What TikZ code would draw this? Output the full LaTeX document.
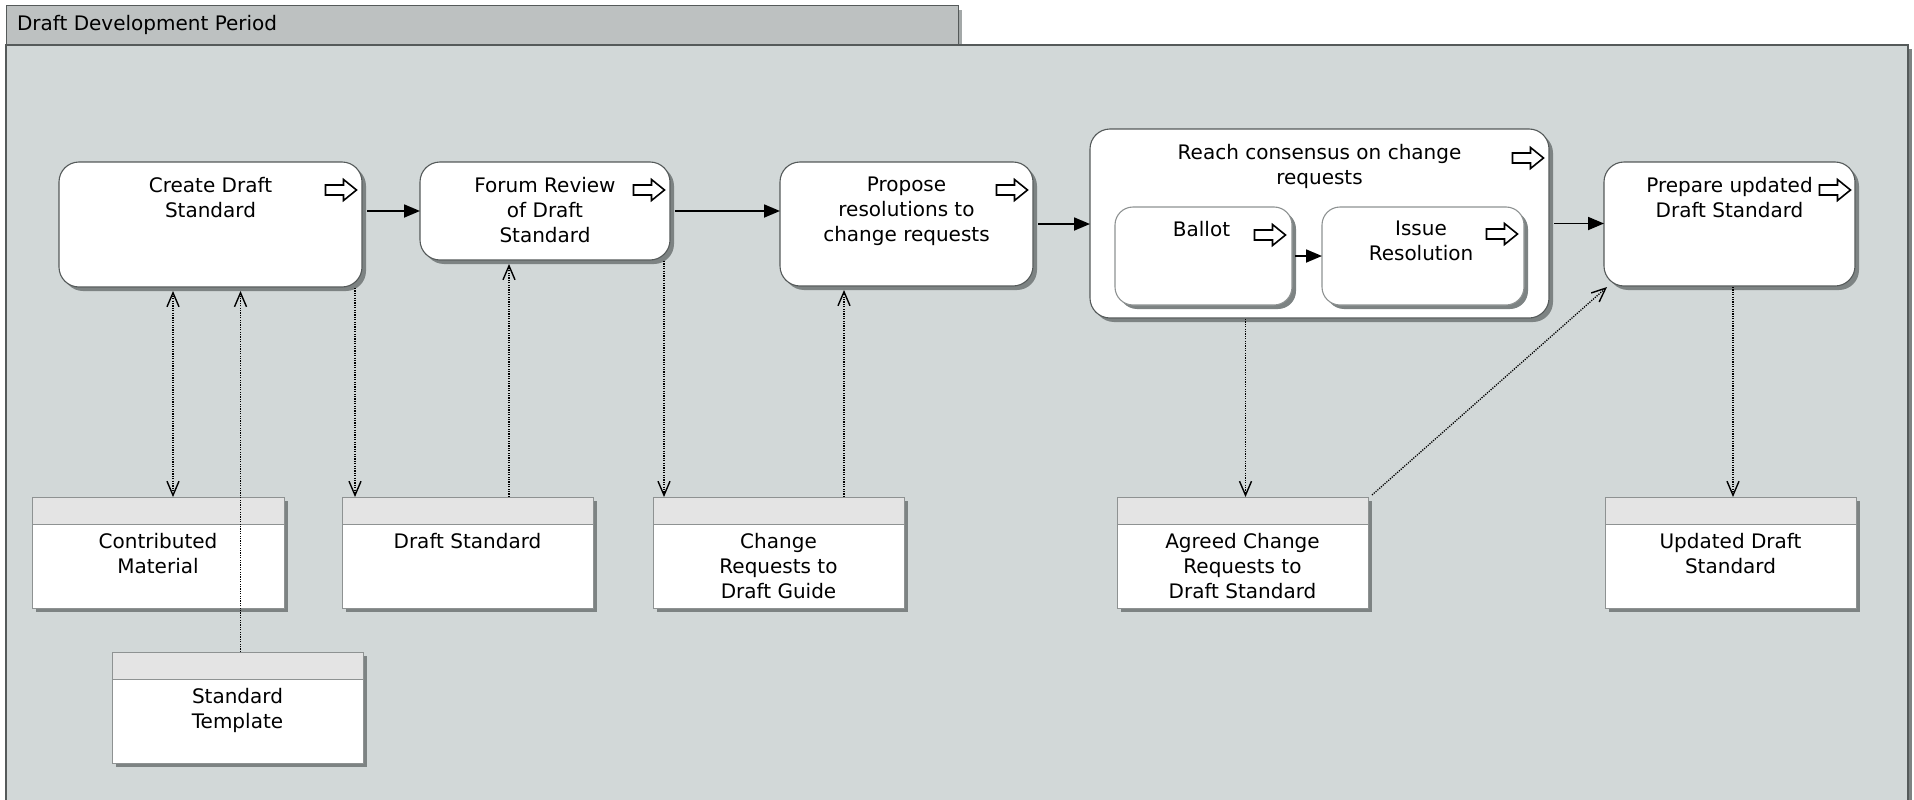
\documentclass[tikz,border=0pt]{standalone}
\usepackage{fontspec}
\setmainfont{DejaVu Sans}
\usetikzlibrary{arrows.meta,shadows,calc}
\definecolor{framefill}{HTML}{D2D8D8}
\definecolor{tabfill}{HTML}{BDC1C1}
\definecolor{edgegray}{HTML}{555A5A}
\definecolor{shadowgray}{HTML}{7D8383}
\definecolor{tabshadow}{HTML}{A3A8A8}
\definecolor{headgray}{HTML}{E4E4E4}
\definecolor{dataedge}{HTML}{8E9292}
\begin{document}
\begin{tikzpicture}[x=1pt,y=-1pt,
  every node/.style={inner sep=0pt, outer sep=0pt},
  txt/.style={font=\fontsize{20}{25}\selectfont, align=center, anchor=north, text=black},
  shade4/.style={drop shadow={shadow xshift=4pt, shadow yshift=-4pt, opacity=1, fill=shadowgray}},
  procbox/.style={draw=edgegray, line width=1.1pt, fill=white, rounded corners=20pt, anchor=north west, shade4},
  subbox/.style={procbox, draw=dataedge, rounded corners=18pt},
  databox/.style={draw=dataedge, line width=1pt, fill=white, anchor=north west, minimum width=251pt, minimum height=111pt, shade4,
    path picture={\fill[headgray] (path picture bounding box.north west) rectangle ([yshift=-27pt]path picture bounding box.north east);
      \draw[dataedge, line width=1pt] ([yshift=-27pt]path picture bounding box.north west) -- ([yshift=-27pt]path picture bounding box.north east);}},
  flow/.style={line width=1.8pt, -{Triangle[length=16pt,width=13pt]}, shorten <=5pt},
  assoc/.style={line width=1.3pt, dash pattern=on 1.2pt off 1.2pt},
  vhead/.style={-{Straight Barb[length=14pt,width=12pt,line width=1.4pt]}},
  vboth/.style={{Straight Barb[length=14pt,width=12pt,line width=1.4pt]}-{Straight Barb[length=14pt,width=12pt,line width=1.4pt]}},
  markicon/.pic={\draw[line width=1.6pt, fill=white, line join=miter] (-15.5,-5) -- (2.5,-5) -- (2.5,-10.5) -- (15.5,0) -- (2.5,10.5) -- (2.5,5) -- (-15.5,5) -- cycle;}
]
\useasboundingbox (0,0) rectangle (1914,800);
\clip (0,0) rectangle (1914,800);
% frame and tab
\fill[tabshadow] (10,10) rectangle (962,45);
\fill[shadowgray] (11,49) rectangle (1912,830);
\draw[edgegray, line width=1pt, fill=tabfill] (6,6) rectangle (958,45);
\draw[edgegray, line width=1.2pt, fill=framefill] (6,45) rectangle (1908,830);
\node[font=\fontsize{20}{25}\selectfont, anchor=west] (title) at (17,25) {Draft Development Period};

% process boxes
\node[procbox, minimum width=303pt, minimum height=125pt] (create) at (59,162) {};
\node[procbox, minimum width=250pt, minimum height=98pt] (forum) at (420,162) {};
\node[procbox, minimum width=253pt, minimum height=124pt] (propose) at (780,162) {};
\node[procbox, minimum width=459pt, minimum height=189pt] (reach) at (1090,129) {};
\node[subbox, minimum width=177pt, minimum height=98pt] (ballot) at (1115,207) {};
\node[subbox, minimum width=202pt, minimum height=98pt] (issue) at (1322,207) {};
\node[procbox, minimum width=251pt, minimum height=124pt] (prepare) at (1604,162) {};

\node[txt] (createT) at ($(create.north)+(0,15)$) {Create Draft\\Standard};
\node[txt] (forumT) at ($(forum.north)+(0,15)$) {Forum Review\\of Draft\\Standard};
\node[txt] (proposeT) at ($(propose.north)+(0,15)$) {Propose\\resolutions to\\change requests};
\node[txt] (reachT) at ($(reach.north)+(0,15)$) {Reach consensus on change\\requests};
\node[txt] (ballotT) at ($(ballot.north)+(-2,14)$) {Ballot};
\node[txt] (issueT) at ($(issue.north)+(-2,14)$) {Issue\\Resolution};
\node[txt] (prepareT) at ($(prepare.north)+(0,15)$) {Prepare updated\\Draft Standard};

\pic at ($(create.north east)+(-21,28)$) {markicon};
\pic at ($(forum.north east)+(-21,28)$) {markicon};
\pic at ($(propose.north east)+(-21,28)$) {markicon};
\pic at ($(reach.north east)+(-21,29)$) {markicon};
\pic at ($(ballot.north east)+(-22,28)$) {markicon};
\pic at ($(issue.north east)+(-22,27)$) {markicon};
\pic at ($(prepare.north east)+(-20,28)$) {markicon};

% data objects
\node[databox, minimum width=252pt] (contrib) at (32,497) {};
\node[databox] (draftstd) at (342,497) {};
\node[databox] (changereq) at (653,497) {};
\node[databox] (agreed) at (1117,497) {};
\node[databox] (updated) at (1605,497) {};
\node[databox] (template) at (112,652) {};

\node[txt] (contribT) at ($(contrib.north)+(0,36)$) {Contributed\\Material};
\node[txt] (draftstdT) at ($(draftstd.north)+(0,36)$) {Draft Standard};
\node[txt] (changereqT) at ($(changereq.north)+(0,36)$) {Change\\Requests to\\Draft Guide};
\node[txt] (agreedT) at ($(agreed.north)+(0,36)$) {Agreed Change\\Requests to\\Draft Standard};
\node[txt] (updatedT) at ($(updated.north)+(0,36)$) {Updated Draft\\Standard};
\node[txt] (templateT) at ($(template.north)+(0,36)$) {Standard\\Template};

% sequence flows
\draw[flow] (create.east |- forum.west) -- (forum.west);
\draw[flow] (forum.east) -- (forum.east -| propose.west);
\draw[flow] (propose.east) -- (propose.east -| reach.west);
\draw[flow, shorten <=3pt] (ballot.east) -- (ballot.east -| issue.west);
\draw[flow] (reach.east) -- (reach.east -| prepare.west);

% associations
\draw[assoc, vboth] ($(create.south west)+(114,4)$) -- ($(contrib.north west)+(141,0)$);
\draw[assoc, vhead] ($(template.north west)+(128.5,0)$) -- ($(create.south west)+(181.5,4)$);
\draw[assoc, vhead] ($(create.south west)+(296,1)$) -- ($(draftstd.north west)+(13,0)$);
\draw[assoc, vhead] ($(draftstd.north west)+(167,0)$) -- ($(forum.south west)+(89,4)$);
\draw[assoc, vhead] ($(forum.south west)+(244,1)$) -- ($(changereq.north west)+(11,0)$);
\draw[assoc, vhead] ($(changereq.north west)+(191,0)$) -- ($(propose.south west)+(64,4)$);
\draw[assoc, vhead] ($(reach.south west)+(155.5,1)$) -- ($(agreed.north west)+(128.5,0)$);
\draw[assoc, vhead] ($(agreed.north east)+(4,-2)$) -- ($(prepare.south west)+(3,1)$);
\draw[assoc, vhead] ($(prepare.south west)+(129,1)$) -- ($(updated.north west)+(128,0)$);
\end{tikzpicture}
\end{document}
